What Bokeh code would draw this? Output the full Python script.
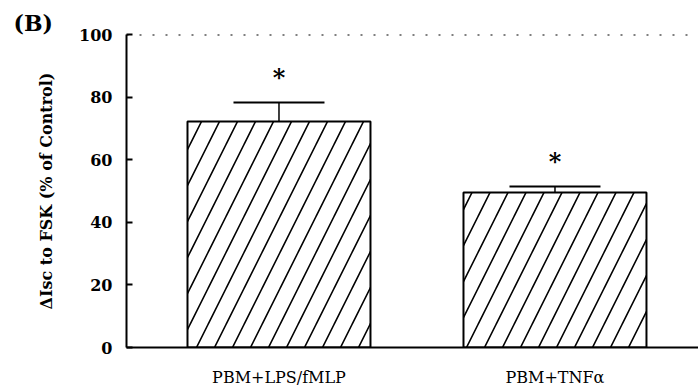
from bokeh.plotting import figure
from bokeh.models import Range1d, FixedTicker, Span, ColumnDataSource, Whisker, TeeHead
from bokeh.core.properties import value
from bokeh.embed import file_html
from bokeh.resources import INLINE

categories = ["PBM+LPS/fMLP", "PBM+TNFα"]
means = [72.2, 49.5]
errors = [6.1, 1.9]
y_ticks = [0, 20, 40, 60, 80, 100]
reference_level = 100
panel_label = "(B)"
y_label = "ΔIsc to FSK (% of Control)"

xs = list(range(len(categories)))
uppers = [m + e for m, e in zip(means, errors)]

src = ColumnDataSource(dict(x=xs, top=means, upper=uppers, star=["*"] * len(xs)))

p = figure(width=698, height=389, output_backend="svg", toolbar_location=None,
           x_range=Range1d(-0.5525, 1.52), y_range=Range1d(0, 100),
           min_border_left=126, min_border_right=0, min_border_top=34, min_border_bottom=42,
           title=panel_label)
p.outline_line_color = None
p.grid.visible = False
p.background_fill_color = "white"
p.border_fill_color = "white"

p.title.align = "left"
p.title.offset = -113
p.title.standoff = -2
p.title.text_font = "DejaVu Serif"
p.title.text_font_style = "bold"
p.title.text_font_size = "22px"
p.title.text_color = "black"

# bars
p.vbar(x="x", top="top", width=0.663, bottom=0, source=src,
       fill_color="white", line_color="black", line_width=2,
       hatch_pattern="/", hatch_scale=36, hatch_weight=1.6, hatch_color="black")

# error bars
p.segment(x0="x", y0="top", x1="x", y1="upper", source=src, line_color="black", line_width=1.5)
wh = Whisker(base="x", lower="upper", upper="upper", source=src, dimension="height",
             line_width=0, lower_head=None,
             upper_head=TeeHead(size=91, line_width=2, line_color="black"))
p.add_layout(wh)

# significance stars
p.text(x="x", y="upper", text="star", source=src, text_align="center", text_baseline="middle",
       y_offset=-25, text_font=value("DejaVu Serif"), text_font_size="24px",
       text_font_style="bold", text_color="black")

# dotted reference line at 100
p.add_layout(Span(location=reference_level, dimension="width", line_color="black",
                  line_width=2, line_dash="2 11"))

# axes
yax = p.yaxis[0]
yax.ticker = FixedTicker(ticks=y_ticks)
yax.minor_tick_line_color = None
yax.major_tick_in = 6
yax.major_tick_out = 0
yax.major_tick_line_width = 2
yax.axis_line_width = 2
yax.major_label_standoff = 14
yax.major_label_text_font = "DejaVu Serif"
yax.major_label_text_font_style = "bold"
yax.major_label_text_font_size = "16px"
yax.major_label_text_color = "black"
yax.axis_label = y_label
yax.axis_label_text_font = "DejaVu Serif"
yax.axis_label_text_font_style = "bold"
yax.axis_label_text_font_size = "16px"
yax.axis_label_standoff = 20
yax.axis_label_text_color = "black"

xax = p.xaxis[0]
xax.ticker = FixedTicker(ticks=xs)
xax.major_label_overrides = {i: c for i, c in zip(xs, categories)}
xax.major_tick_line_color = None
xax.minor_tick_line_color = None
xax.major_tick_in = 0
xax.major_tick_out = 0
xax.axis_line_width = 2
xax.major_label_standoff = 20
xax.major_label_text_font = "DejaVu Serif"
xax.major_label_text_font_size = "16px"
xax.major_label_text_color = "black"

open("out.html", "w").write(file_html(p, INLINE))
